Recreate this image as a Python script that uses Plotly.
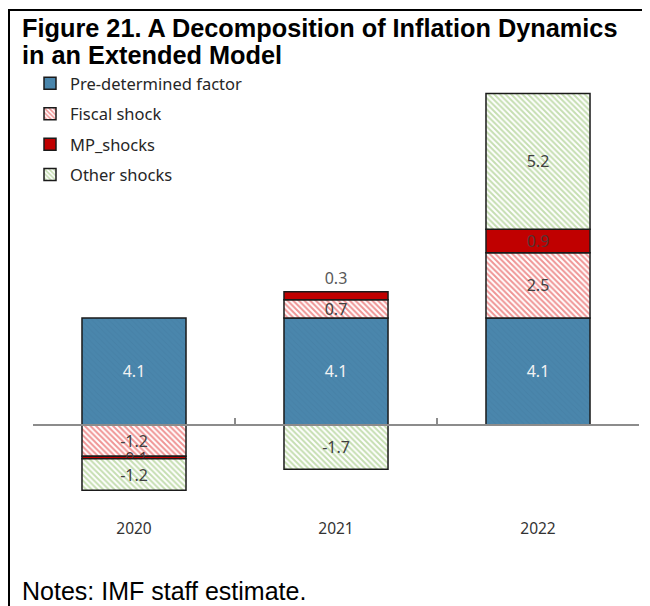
import plotly.graph_objects as go

years = ["2020", "2021", "2022"]
predetermined = [4.1, 4.1, 4.1]
fiscal = [-1.2, 0.7, 2.5]
mp_shocks = [-0.1, 0.3, 0.9]
other = [-1.2, -1.7, 5.2]

# page body has an 8px margin; work in screen pixels and convert
OFF = 8
W, H = 650 - OFF, 606 - OFF
PL, PR, PT, PB = 33, 639, 80, 510          # plot area in screen pixels
ML, MR, MT, MB = PL - OFF, W - (PR - OFF), PT - OFF, H - (PB - OFF)
YMIN, YMAX = -3.26, 13.22
PW, PH = W - ML - MR, H - MT - MB


def px(x):
    return (x - OFF - ML) / PW


def py(y):
    return (H - MB - (y - OFF)) / PH


LBL = dict(family="Noto Sans", size=16, color="#404040")
OUTLINE = dict(color="#1a1a1a", width=1.5)

fig = go.Figure()
fig.add_bar(
    x=years, y=predetermined, name="Pre-determined factor", legendgroup="a",
    marker=dict(color="#4a86ac", line=OUTLINE,
                pattern=dict(shape="\\", fillmode="overlay", bgcolor="#4a86ac",
                             fgcolor="#427ca2", size=4, solidity=0.25)),
    texttemplate="%{y:.1f}", textposition="inside", insidetextanchor="middle",
    textfont=dict(family="Noto Sans", size=16, color="#f2f2f2"),
)
fig.add_bar(
    x=years, y=fiscal, name="Fiscal shock", legendgroup="b",
    marker=dict(color="white", line=OUTLINE,
                pattern=dict(shape="\\", fillmode="overlay", bgcolor="white",
                             fgcolor="#e02a2a", size=4, solidity=0.5)),
    texttemplate="%{y:.1f}", textposition="inside", insidetextanchor="middle",
    textfont=LBL,
)
fig.add_bar(
    x=years, y=mp_shocks, name="MP_shocks", legendgroup="c",
    marker=dict(color="#c00000", line=OUTLINE),
    texttemplate="%{y:.1f}", textposition=["inside", "outside", "inside"],
    insidetextanchor="middle",
    textfont=dict(family="Noto Sans", size=16, color="#595959"),
    insidetextfont=dict(family="Noto Sans", size=16, color="#553535"),
)
fig.add_bar(
    x=years, y=other, name="Other shocks", legendgroup="d",
    marker=dict(color="white", line=OUTLINE,
                pattern=dict(shape="\\", fillmode="overlay", bgcolor="white",
                             fgcolor="#8cbd64", size=4, solidity=0.5)),
    texttemplate="%{y:.1f}", textposition="inside", insidetextanchor="middle",
    textfont=LBL,
)
fig.add_scatter(x=years, y=[0, 0, 0], xaxis="x2", mode="lines",
                line=dict(width=0), showlegend=False, hoverinfo="skip")

fig.update_traces(constraintext="none", cliponaxis=False, selector=dict(type="bar"))

zero_pos = (0 - YMIN) / (YMAX - YMIN)

fig.update_layout(
    width=W, height=H,
    margin=dict(l=ML, r=MR, t=MT, b=MB, pad=0),
    paper_bgcolor="white", plot_bgcolor="white",
    barmode="relative", bargap=0.485,
    showlegend=True,
    legend=dict(x=px(30), y=py(66), xanchor="left", yanchor="top",
                traceorder="grouped", tracegroupgap=6,
                font=dict(family="Noto Sans", size=16.5, color="#262626"),
                bgcolor="rgba(0,0,0,0)"),
    xaxis=dict(type="category", categoryarray=years, range=[-0.5, 2.5],
               showline=False, ticks="", showgrid=False, zeroline=False,
               ticklabelstandoff=7,
               tickfont=dict(family="Noto Sans", size=15.5, color="#333333")),
    xaxis2=dict(type="category", categoryarray=years, range=[-0.5, 2.5],
                overlaying="x", anchor="free", position=zero_pos, side="bottom",
                showline=True, linecolor="#8c8c8c", linewidth=1.5,
                ticks="inside", tickson="boundaries", ticklen=6, tickcolor="#8c8c8c",
                tickwidth=1.5, showticklabels=False, showgrid=False, zeroline=False),
    yaxis=dict(range=[YMIN, YMAX], visible=False),
    annotations=[
        dict(text="<b>Figure 21. A Decomposition of Inflation Dynamics</b>",
             x=px(20), y=py(28), xref="paper", yref="paper", xanchor="left",
             yanchor="middle", showarrow=False,
             font=dict(family="Liberation Sans", size=25.3, color="black")),
        dict(text="<b>in an Extended Model</b>",
             x=px(20), y=py(55), xref="paper", yref="paper", xanchor="left",
             yanchor="middle", showarrow=False,
             font=dict(family="Liberation Sans", size=25.3, color="black")),
        dict(text="Notes: IMF staff estimate.",
             x=px(20), y=py(591), xref="paper", yref="paper", xanchor="left",
             yanchor="middle", showarrow=False,
             font=dict(family="Liberation Sans", size=25, color="black")),
    ],
    shapes=[
        dict(type="line", xref="paper", yref="paper", x0=px(8), x1=px(650),
             y0=py(10), y1=py(10), line=dict(color="black", width=2)),
        dict(type="line", xref="paper", yref="paper", x0=px(9), x1=px(9),
             y0=py(10), y1=py(606), line=dict(color="black", width=2)),
    ],
)

fig.write_html("out.html")
